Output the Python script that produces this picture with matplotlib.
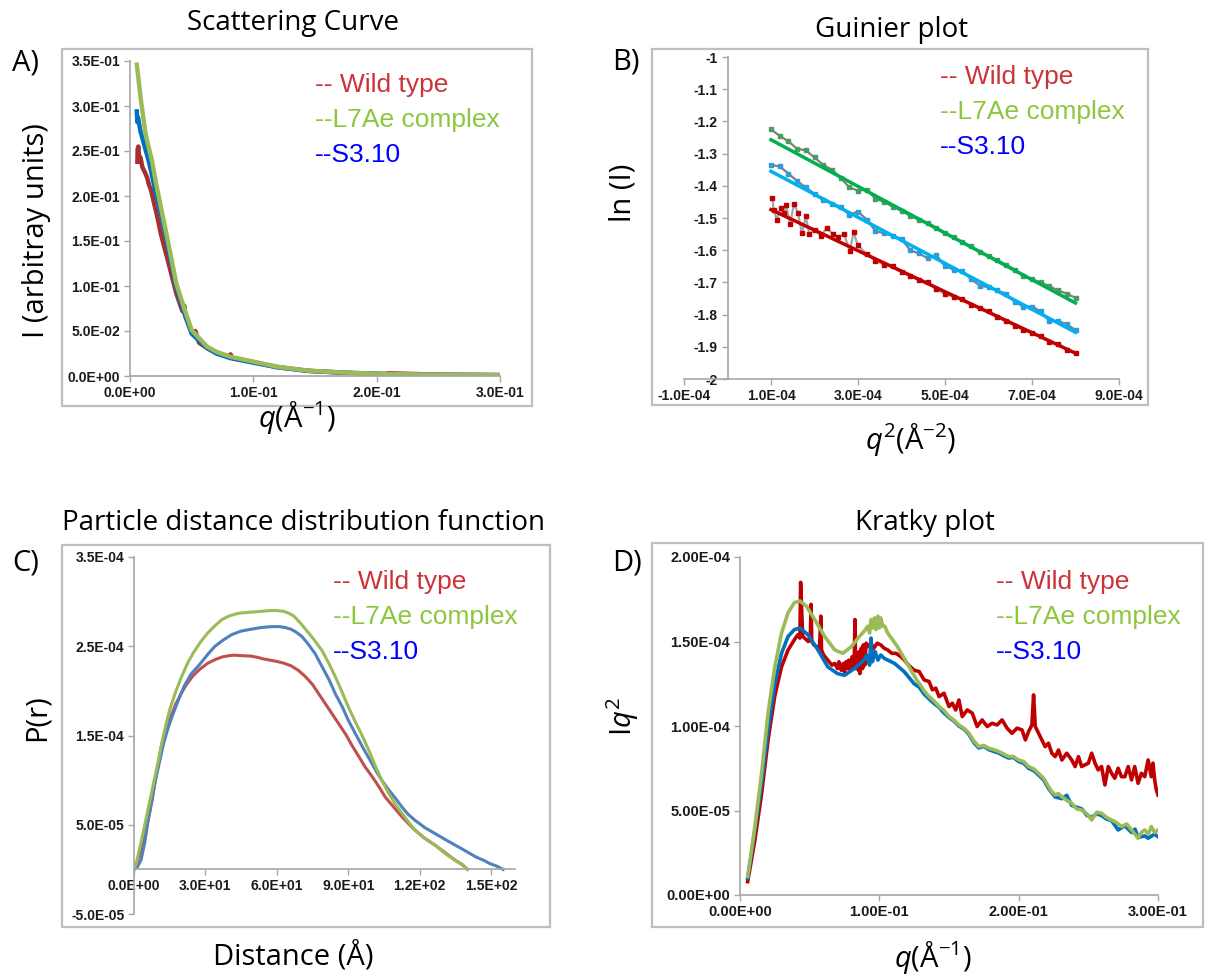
import matplotlib
matplotlib.use("Agg")
import matplotlib.pyplot as plt
from matplotlib.patches import Rectangle
from matplotlib.ticker import FuncFormatter

# ---------------- data ----------------
# A) scattering curve  I(q)
sc_q_wt = [0.0060, 0.0062, 0.0068, 0.0075, 0.0085, 0.010, 0.0115, 0.0125, 0.014, 0.0155, 0.017, 0.019,
           0.022, 0.025, 0.030, 0.0375, 0.0425, 0.044, 0.045, 0.050, 0.0525, 0.053, 0.056, 0.0625, 0.070,
           0.080, 0.0815, 0.083, 0.090, 0.100, 0.119, 0.144, 0.175, 0.206, 0.210, 0.250, 0.300]
sc_i_wt = [0.238, 0.252, 0.255, 0.240, 0.243, 0.232, 0.228, 0.225, 0.220, 0.212, 0.207, 0.195,
           0.178, 0.158, 0.132, 0.092, 0.072, 0.078, 0.066, 0.049, 0.046, 0.050, 0.037, 0.031, 0.026,
           0.0215, 0.024, 0.020, 0.018, 0.0155, 0.010, 0.0058, 0.0036, 0.0023, 0.003, 0.0015, 0.0010]
sc_q_l7 = [0.0055, 0.0065, 0.0085, 0.0105, 0.0125, 0.015, 0.018, 0.021, 0.025, 0.030, 0.0375, 0.044,
           0.050, 0.0625, 0.070, 0.081, 0.100, 0.119, 0.144, 0.175, 0.206, 0.250, 0.300]
sc_i_l7 = [0.346, 0.335, 0.310, 0.290, 0.270, 0.255, 0.238, 0.215, 0.188, 0.155, 0.103, 0.075,
           0.051, 0.0326, 0.027, 0.0215, 0.016, 0.0104, 0.006, 0.0037, 0.0022, 0.0015, 0.0010]
sc_q_s3 = [0.0055, 0.0060, 0.0065, 0.0085, 0.0105, 0.0125, 0.015, 0.018, 0.021, 0.025, 0.030, 0.0375,
           0.044, 0.050, 0.0625, 0.070, 0.081, 0.100, 0.119, 0.144, 0.175, 0.206, 0.250, 0.300]
sc_i_s3 = [0.294, 0.282, 0.287, 0.272, 0.262, 0.252, 0.240, 0.222, 0.203, 0.181, 0.148, 0.099,
           0.070, 0.047, 0.031, 0.025, 0.0200, 0.0148, 0.0098, 0.0057, 0.0035, 0.0021, 0.0014, 0.0010]

# B) Guinier plot  ln(I) vs q^2 (x in 1e-4 units), with linear fits
gu_q2_wt = [1.03, 1.06, 1.13, 1.22, 1.29, 1.35, 1.44, 1.53, 1.62, 1.71, 1.80, 1.88, 2.02, 2.15, 2.28,
            2.42, 2.55, 2.68, 2.81, 2.90, 2.99, 3.2, 3.4, 3.6, 3.8, 4.0, 4.2, 4.4, 4.6, 4.8, 5.0, 5.2,
            5.4, 5.6, 5.8, 6.0, 6.2, 6.4, 6.6, 6.8, 7.0, 7.2, 7.4, 7.6, 7.8, 8.0]
gu_ln_wt = [-1.438, -1.474, -1.505, -1.470, -1.485, -1.460, -1.518, -1.455, -1.485, -1.547, -1.495,
            -1.550, -1.536, -1.557, -1.530, -1.550, -1.560, -1.550, -1.603, -1.543, -1.584, -1.612,
            -1.632, -1.645, -1.650, -1.668, -1.680, -1.693, -1.700, -1.722, -1.735, -1.745, -1.752,
            -1.770, -1.778, -1.790, -1.808, -1.820, -1.835, -1.848, -1.858, -1.866, -1.885, -1.890,
            -1.910, -1.918]
gu_q2 = [1.0, 1.2, 1.4, 1.6, 1.8, 2.0, 2.2, 2.4, 2.6, 2.8, 3.0, 3.2, 3.4, 3.6, 3.8, 4.0, 4.2, 4.4,
         4.6, 4.8, 5.0, 5.2, 5.4, 5.6, 5.8, 6.0, 6.2, 6.4, 6.6, 6.8, 7.0, 7.2, 7.4, 7.6, 7.8, 8.0]
gu_ln_l7 = [-1.225, -1.245, -1.262, -1.285, -1.290, -1.312, -1.335, -1.350, -1.375, -1.405, -1.415,
            -1.412, -1.440, -1.450, -1.465, -1.478, -1.493, -1.505, -1.515, -1.530, -1.547, -1.560,
            -1.575, -1.588, -1.607, -1.618, -1.630, -1.645, -1.660, -1.680, -1.690, -1.700, -1.712,
            -1.725, -1.735, -1.748]
gu_ln_s3 = [-1.335, -1.340, -1.362, -1.385, -1.405, -1.425, -1.445, -1.455, -1.465, -1.490, -1.480,
            -1.505, -1.540, -1.548, -1.555, -1.565, -1.600, -1.610, -1.625, -1.615, -1.650, -1.660,
            -1.665, -1.690, -1.710, -1.715, -1.725, -1.735, -1.760, -1.775, -1.775, -1.790, -1.820,
            -1.820, -1.830, -1.848]
fit_q2 = [1.0, 8.0]
fit_wt = [-1.474, -1.920]
fit_l7 = [-1.257, -1.764]
fit_s3 = [-1.355, -1.855]

# C) pair distance distribution P(r)  (P in 1e-4 units)
pr_r_wt = [0, 1.5, 3.5, 5, 6, 7.5, 8.5, 10, 11.5, 13, 15, 17.5, 20, 22, 24.5, 27.5, 31, 34, 37, 40,
           42, 45, 49, 52, 54, 57, 60, 63, 66, 69, 72, 75, 77.5, 80, 83, 86, 89, 91.5, 94.5, 97, 100,
           103, 105.5, 109, 112.5, 115, 118, 122, 126.5, 131, 135, 138, 140]
pr_p_wt = [0, 0.10, 0.26, 0.43, 0.56, 0.76, 0.93, 1.15, 1.38, 1.54, 1.68, 1.85, 1.98, 2.07, 2.16,
           2.24, 2.31, 2.35, 2.38, 2.395, 2.40, 2.395, 2.39, 2.375, 2.36, 2.345, 2.33, 2.31, 2.28,
           2.23, 2.16, 2.07, 1.97, 1.87, 1.75, 1.63, 1.51, 1.39, 1.26, 1.15, 1.04, 0.92, 0.81, 0.70,
           0.59, 0.52, 0.44, 0.35, 0.27, 0.18, 0.10, 0.05, 0]
pr_r_l7 = [0, 1, 2, 3.5, 5, 6.5, 8.5, 10, 12, 13.5, 15, 17.5, 20, 22.5, 25, 28, 31, 34, 37, 40, 44,
           48, 53, 57, 60, 63, 65, 67, 68.5, 70.5, 73, 76, 79, 82, 84.5, 87, 90, 93, 96, 99, 101.5,
           104, 107, 110, 112.5, 115, 118, 122, 126.5, 131, 135, 138, 140]
pr_p_l7 = [0, 0.07, 0.19, 0.37, 0.56, 0.75, 1.0, 1.19, 1.46, 1.63, 1.79, 1.99, 2.16, 2.31, 2.43,
           2.55, 2.65, 2.73, 2.80, 2.84, 2.87, 2.88, 2.89, 2.90, 2.90, 2.89, 2.87, 2.84, 2.80, 2.74,
           2.66, 2.56, 2.45, 2.30, 2.16, 2.01, 1.82, 1.65, 1.49, 1.31, 1.15, 1.00, 0.85, 0.72, 0.63,
           0.54, 0.44, 0.35, 0.27, 0.17, 0.10, 0.05, 0]
pr_r_s3 = [0, 1.5, 3, 4.5, 6, 7.5, 9, 11, 12.5, 14.5, 16.5, 19, 21, 24, 28, 31, 34, 37.5, 41, 45, 49,
           53.5, 58, 61, 63.5, 66, 68, 70.5, 73, 76, 79, 82, 84.5, 87.5, 90, 93, 96, 99, 101.5, 104,
           107, 110, 112.5, 115, 118, 122, 126.5, 131, 135, 139, 143.5, 147, 149, 152, 155]
pr_p_s3 = [0, 0.03, 0.11, 0.30, 0.56, 0.78, 1.0, 1.24, 1.42, 1.60, 1.75, 1.92, 2.05, 2.19, 2.31,
           2.41, 2.50, 2.57, 2.63, 2.67, 2.69, 2.71, 2.72, 2.72, 2.71, 2.69, 2.66, 2.61, 2.53, 2.42,
           2.27, 2.12, 1.97, 1.82, 1.67, 1.52, 1.37, 1.23, 1.11, 1.00, 0.89, 0.79, 0.70, 0.62, 0.55,
           0.47, 0.40, 0.33, 0.27, 0.21, 0.14, 0.10, 0.07, 0.04, 0]

# D) Kratky plot  I q^2 (values in 1e-5 units)
kr_q_wt = [0.0055, 0.0107, 0.0155, 0.0202, 0.025, 0.0298, 0.0345, 0.039, 0.0415, 0.043, 0.0435,
           0.045, 0.0464, 0.049, 0.0505, 0.051, 0.0515, 0.053, 0.055, 0.057, 0.058, 0.0585, 0.060,
           0.063, 0.066, 0.068, 0.070, 0.071, 0.0726, 0.074, 0.075, 0.076, 0.077, 0.078, 0.079,
           0.0805, 0.081, 0.082, 0.0825, 0.083, 0.084, 0.085, 0.0855, 0.086, 0.087, 0.088, 0.0885,
           0.0895, 0.0905, 0.0917, 0.094, 0.096, 0.0985, 0.101, 0.1035, 0.106, 0.109, 0.112, 0.1155,
           0.118, 0.121, 0.125, 0.1286, 0.1321, 0.1357, 0.1381, 0.1405, 0.1429, 0.1464, 0.150,
           0.1524, 0.1548, 0.1571, 0.1595, 0.1631, 0.1667, 0.1702, 0.1738, 0.1774, 0.181, 0.1845,
           0.1881, 0.1917, 0.1952, 0.1988, 0.2024, 0.2048, 0.2071, 0.2095, 0.2107, 0.2119, 0.2143,
           0.2167, 0.219, 0.2214, 0.2238, 0.2262, 0.2286, 0.231, 0.2345, 0.2381, 0.2405, 0.2429,
           0.2452, 0.2476, 0.250, 0.2524, 0.2548, 0.2571, 0.2595, 0.2619, 0.2643, 0.2667, 0.269,
           0.2714, 0.2738, 0.2762, 0.2786, 0.281, 0.2833, 0.2857, 0.2881, 0.2905, 0.2929, 0.2952,
           0.2964, 0.2976, 0.2988, 0.300]
kr_v_wt = [0.79, 3.26, 6.0, 9.2, 11.8, 13.5, 14.5, 15.1, 15.4, 15.2, 18.5, 15.3, 15.2, 15.0, 15.3,
           17.2, 15.0, 14.8, 14.7, 14.4, 16.5, 14.5, 14.2, 13.9, 13.6, 13.7, 13.4, 13.8, 13.3, 13.7,
           13.2, 13.8, 13.4, 13.9, 13.3, 14.1, 13.5, 13.8, 16.3, 13.4, 14.2, 13.3, 14.4, 13.1, 14.6,
           13.4, 14.8, 13.6, 14.9, 14.7, 14.9, 14.6, 14.9, 14.8, 14.6, 14.5, 14.3, 14.3, 14.1, 13.9,
           13.6, 13.3, 13.22, 12.73, 12.63, 12.14, 12.24, 11.74, 11.94, 11.15, 11.35, 10.95, 11.54,
           10.56, 10.95, 10.76, 9.97, 10.36, 9.97, 10.16, 10.06, 10.36, 9.87, 9.57, 9.87, 9.77, 9.18,
           9.67, 10.06, 11.84, 9.97, 9.57, 9.18, 8.78, 8.98, 8.39, 8.19, 8.58, 7.99, 8.39, 7.99, 7.6,
           8.19, 7.6, 7.70, 7.8, 8.39, 7.8, 7.4, 7.6, 6.51, 7.6, 7.2, 6.91, 7.5, 7.0, 7.0, 7.6, 6.81,
           7.6, 6.61, 7.2, 7.0, 7.99, 7.0, 7.8, 6.81, 6.22, 5.92]
kr_q_l7 = [0.0055, 0.0107, 0.0155, 0.0202, 0.025, 0.0298, 0.0345, 0.039, 0.043, 0.0476, 0.0536,
           0.0607, 0.068, 0.0738, 0.080, 0.0857, 0.089, 0.0917, 0.093, 0.094, 0.0955, 0.0965, 0.0976,
           0.099, 0.100, 0.101, 0.1025, 0.104, 0.106, 0.113, 0.120, 0.127, 0.1286, 0.132, 0.1357,
           0.139, 0.1429, 0.146, 0.150, 0.1535, 0.1571, 0.161, 0.1643, 0.168, 0.1714, 0.175, 0.1786,
           0.182, 0.1857, 0.189, 0.1929, 0.196, 0.200, 0.2035, 0.2071, 0.211, 0.2143, 0.218, 0.2214,
           0.224, 0.2262, 0.2285, 0.231, 0.2345, 0.2381, 0.2415, 0.2452, 0.249, 0.2524, 0.256,
           0.2595, 0.263, 0.2667, 0.270, 0.2738, 0.2775, 0.281, 0.2835, 0.2857, 0.288, 0.2905, 0.293,
           0.2952, 0.2976, 0.300]
kr_v_l7 = [1.09, 4.05, 7.2, 10.8, 13.5, 15.5, 16.7, 17.3, 17.4, 17.1, 16.3, 15.3, 14.5, 14.3, 14.7,
           15.3, 15.6, 15.9, 15.5, 16.3, 15.8, 16.4, 15.7, 16.5, 15.8, 16.4, 15.9, 15.9, 15.5, 14.7,
           13.7, 12.7, 12.53, 12.1, 11.74, 11.5, 11.15, 10.95, 10.56, 10.35, 10.06, 9.85, 9.57, 9.1,
           8.78, 8.85, 8.68, 8.6, 8.49, 8.35, 8.19, 8.2, 7.99, 7.9, 7.6, 7.45, 7.2, 6.9, 6.41, 6.1,
           5.92, 6.0, 5.82, 5.6, 5.43, 5.1, 5.03, 4.8, 4.44, 4.9, 4.84, 4.6, 4.44, 4.3, 4.05, 4.2,
           3.85, 3.6, 3.36, 3.7, 3.85, 3.6, 4.05, 3.7, 3.85]
kr_q_s3 = [0.0055, 0.0107, 0.0155, 0.0202, 0.025, 0.0298, 0.0345, 0.039, 0.043, 0.0488, 0.056,
           0.063, 0.070, 0.075, 0.082, 0.089, 0.091, 0.093, 0.094, 0.095, 0.097, 0.099, 0.101,
           0.1036, 0.111, 0.118, 0.125, 0.1286, 0.132, 0.1357, 0.139, 0.1429, 0.146, 0.150, 0.1535,
           0.1571, 0.161, 0.1643, 0.168, 0.1714, 0.175, 0.1786, 0.182, 0.1857, 0.189, 0.1929, 0.196,
           0.200, 0.2035, 0.2071, 0.211, 0.2143, 0.218, 0.2214, 0.2262, 0.231, 0.2345, 0.2381,
           0.2415, 0.2452, 0.249, 0.2524, 0.256, 0.2595, 0.263, 0.2667, 0.2714, 0.2762, 0.281,
           0.2835, 0.2857, 0.2905, 0.2929, 0.2976, 0.300]
kr_v_s3 = [0.99, 3.85, 6.6, 9.8, 12.5, 14.3, 15.3, 15.7, 15.8, 15.4, 14.5, 13.5, 13.1, 13.0, 13.4,
           13.9, 14.2, 13.6, 15.2, 13.8, 14.4, 13.9, 14.2, 14.0, 13.7, 13.2, 12.5, 12.3, 11.9, 11.6,
           11.35, 11.1, 10.8, 10.5, 10.3, 10.0, 9.8, 9.5, 9.0, 8.7, 8.8, 8.6, 8.5, 8.4, 8.25, 8.1,
           8.15, 7.9, 7.8, 7.5, 7.35, 7.1, 6.8, 6.3, 5.8, 5.7, 5.9, 5.3, 5.2, 5.1, 4.7, 4.6, 4.8,
           4.7, 4.5, 4.4, 3.85, 4.1, 3.7, 3.9, 3.4, 3.5, 3.36, 3.6, 3.45]

legend_labels = ["-- Wild type", "--L7Ae complex", "--S3.10"]
legend_colors = ["#CC3338", "#8DC63F", "#0000FF"]

# ---------------- layout helpers (pixel coords, origin top-left) ----------------
W, H = 1207, 977
plt.rcParams['mathtext.fontset'] = 'custom'
plt.rcParams['mathtext.rm'] = 'Open Sans'
plt.rcParams['mathtext.it'] = 'Open Sans:italic'

fig = plt.figure(figsize=(W / 100, H / 100), dpi=100)

TICKFONT = dict(family='Liberation Sans', weight='bold', size=10)
LABFONT = dict(family='Open Sans', size=21)


def px_axes(l, t, r, b):
    ax = fig.add_axes([l / W, 1 - b / H, (r - l) / W, (b - t) / H])
    ax.patch.set_alpha(0)
    for s in ['top', 'right']:
        ax.spines[s].set_visible(False)
    for s in ['left', 'bottom']:
        ax.spines[s].set_color('#A6A6A6')
        ax.spines[s].set_linewidth(1.2)
    ax.tick_params(direction='out', length=4, width=1, color='#A6A6A6', labelcolor='#1A1A1A', pad=3)
    return ax


def box(l, t, r, b):
    fig.patches.append(Rectangle((l / W, 1 - b / H), (r - l) / W, (b - t) / H,
                                 transform=fig.transFigure, fill=False,
                                 edgecolor='#BFBFBF', lw=1.6))


def ftext(x, y, s, **kw):
    fig.text(x / W, 1 - y / H, s, **kw)


def style_ticks(ax, fmt, size=10):
    ax.xaxis.set_major_formatter(FuncFormatter(fmt[0]))
    ax.yaxis.set_major_formatter(FuncFormatter(fmt[1]))
    for lab in ax.get_xticklabels() + ax.get_yticklabels():
        lab.set(**TICKFONT)
        lab.set_size(size)


def legend_block(x, y0, step=35):
    for i, (s, c) in enumerate(zip(legend_labels, legend_colors)):
        ftext(x, y0 + i * step, s, color=c, family='Liberation Sans', size=19, va='center', ha='left')


e1 = lambda v, p: "%.1E" % v
e2 = lambda v, p: "%.2E" % v
gen = lambda v, p: "%g" % round(v, 2)

# ---------------- A) Scattering curve ----------------
box(62, 49, 532, 406)
axA = px_axes(130, 61, 500, 376)
axA.plot(sc_q_wt, sc_i_wt, color='#A5302E', lw=3.2)
axA.plot(sc_q_s3, sc_i_s3, color='#0070C0', lw=3.2)
axA.plot(sc_q_l7, sc_i_l7, color='#9BBB59', lw=3.2)
axA.set_xlim(0, 0.3)
axA.set_ylim(0, 0.35)
axA.set_xticks([0, 0.1, 0.2, 0.3])
axA.set_yticks([0, 0.05, 0.1, 0.15, 0.2, 0.25, 0.3, 0.35])
style_ticks(axA, (e1, e1))
ftext(293, 23, "Scattering Curve", family='Open Sans', size=20, ha='center', va='center')
ftext(12, 63, "A)", family='Open Sans', size=21, ha='left', va='center')
ftext(37, 231, "I (arbitray units)", rotation=90, ha='center', va='center', **LABFONT)
ftext(297, 417, r"$q$(Å$^{-1}$)", ha='center', va='center', **LABFONT)
legend_block(315, 85)

# ---------------- B) Guinier plot ----------------
box(652, 49, 1148, 405)
axB = px_axes(684, 57, 1119, 379)
xs_wt = [v * 1e-4 for v in gu_q2_wt]
xs = [v * 1e-4 for v in gu_q2]
xf = [v * 1e-4 for v in fit_q2]
axB.plot(xs_wt, gu_ln_wt, color='#A6A6A6', lw=1.6, zorder=2)
axB.plot(xs_wt, gu_ln_wt, 's', color='#C00000', ms=2.5, zorder=3)
axB.plot(xs, gu_ln_s3, color='#7F7F7F', lw=1.6, zorder=2)
axB.plot(xs, gu_ln_s3, 's', color='#2F9BD7', ms=3, zorder=3)
axB.plot(xs, gu_ln_l7, color='#7F7F7F', lw=1.6, zorder=2)
axB.plot(xs, gu_ln_l7, 's', color='#4E9A5E', ms=3, zorder=3)
axB.plot(xf, fit_wt, color='#C00000', lw=2.5, zorder=4)
axB.plot(xf, fit_s3, color='#00B0F0', lw=2.5, zorder=4)
axB.plot(xf, fit_l7, color='#00B050', lw=2.5, zorder=4)
axB.set_xlim(-1e-4, 9e-4)
axB.set_ylim(-2, -1)
axB.spines['left'].set_position(('data', 0))
axB.set_xticks([-1e-4, 1e-4, 3e-4, 5e-4, 7e-4, 9e-4])
axB.set_yticks([-2, -1.9, -1.8, -1.7, -1.6, -1.5, -1.4, -1.3, -1.2, -1.1, -1])
style_ticks(axB, (e1, gen))
ftext(892, 30, "Guinier plot", family='Open Sans', size=20, ha='center', va='center')
ftext(612, 62, "B)", family='Open Sans', size=21, ha='left', va='center')
ftext(623, 193, "ln (I)", rotation=90, ha='center', va='center', **LABFONT)
ftext(911, 440, r"$q^2$(Å$^{-2}$)", ha='center', va='center', **LABFONT)
legend_block(940, 77)

# ---------------- C) P(r) ----------------
box(62, 545, 550, 927)
axC = px_axes(134, 557, 515, 914)
axC.plot(pr_r_wt, [v * 1e-4 for v in pr_p_wt], color='#C0504D', lw=2.2)
axC.plot(pr_r_s3, [v * 1e-4 for v in pr_p_s3], color='#4F81BD', lw=2.2)
axC.plot(pr_r_l7, [v * 1e-4 for v in pr_p_l7], color='#9BBB59', lw=2.2)
axC.set_xlim(0, 160)
axC.set_ylim(-5e-5, 3.5e-4)
axC.spines['bottom'].set_position(('data', 0))
axC.set_xticks([0, 30, 60, 90, 120, 150])
axC.set_yticks([-5e-5, 5e-5, 1.5e-4, 2.5e-4, 3.5e-4])
style_ticks(axC, (e1, e1))
ftext(303, 523, "Particle distance distribution function", family='Open Sans', size=20,
      ha='center', va='center')
ftext(12, 563, "C)", family='Open Sans', size=21, ha='left', va='center')
ftext(37, 718, "P(r)", rotation=90, ha='center', va='center', **LABFONT)
ftext(293, 957, "Distance (Å)", ha='center', va='center', **LABFONT)
legend_block(333, 582)

# ---------------- D) Kratky plot ----------------
box(652, 543, 1203, 927)
axD = px_axes(740, 557, 1158, 895)
axD.plot(kr_q_wt, [v * 1e-5 for v in kr_v_wt], color='#C00000', lw=2.6)
axD.plot(kr_q_s3, [v * 1e-5 for v in kr_v_s3], color='#0070C0', lw=2.6)
axD.plot(kr_q_l7, [v * 1e-5 for v in kr_v_l7], color='#9BBB59', lw=2.6)
axD.set_xlim(0, 0.3)
axD.set_ylim(0, 2e-4)
axD.set_xticks([0, 0.1, 0.2, 0.3])
axD.set_yticks([0, 5e-5, 1e-4, 1.5e-4, 2e-4])
style_ticks(axD, (e2, e2), size=10.5)
ftext(925, 523, "Kratky plot", family='Open Sans', size=20, ha='center', va='center')
ftext(612, 563, "D)", family='Open Sans', size=21, ha='left', va='center')
ftext(623, 717, r"I$q^2$", rotation=90, ha='center', va='center', **LABFONT)
ftext(933, 957, r"$q$(Å$^{-1}$)", ha='center', va='center', **LABFONT)
legend_block(996, 582)

fig.savefig("out.png", dpi=100)
